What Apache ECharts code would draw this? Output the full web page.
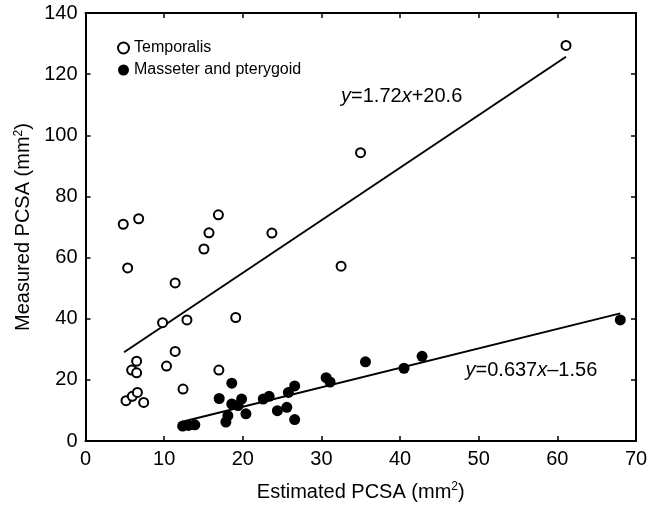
<!DOCTYPE html>
<html><head><meta charset="utf-8">
<script src="https://cdn.jsdelivr.net/npm/echarts@6/dist/echarts.min.js"></script>
<style>html,body{margin:0;padding:0;background:#fff}#c{width:658px;height:507px}</style>
</head><body><div id="c"></div>
<script>
// Temporalis (open circles)
const tempX = [5.15,5.95,6.6,7.4,5.87,6.5,6.5,5.36,9.8,10.3,11.4,11.4,12.9,12.4,15.06,16.96,19.1,4.8,6.76,15.7,16.9,23.7,34.97,61.1,32.5];
const tempY = [13.2,14.6,15.9,12.6,23.2,22.3,26.1,56.6,38.7,24.5,51.7,29.3,39.6,17.0,62.8,23.2,40.4,70.9,72.7,68.1,74.0,68.0,94.3,129.4,57.2];
// Masseter and pterygoid (filled circles)
const massX = [12.35,13.1,13.9,17.0,18.6,17.85,18.1,18.6,19.85,19.4,20.4,22.6,23.35,24.4,25.6,25.8,26.6,26.6,30.6,31.1,35.6,40.5,42.8,68.0];
const massY = [4.9,5.1,5.3,13.9,18.9,6.2,8.3,12.1,13.7,11.6,8.9,13.7,14.6,9.9,11.0,15.9,18.0,7.0,20.7,19.3,25.9,23.8,27.7,39.6];
// Regression lines
const tempFit = {slope:1.72, intercept:20.6, xRange:[4.9,61.1], label:[40.2,112.8]};
const massFit = {slope:0.637, intercept:-1.56, xRange:[12.3,68.0], label:[56.7,23.2]};
const xTicks = {min:0, max:70, interval:10};
const yTicks = {min:0, max:140, interval:20};

const zip = (a,b)=>a.map((v,i)=>[v,b[i]]);
const fitLine = f => f.xRange.map(x=>[x, f.slope*x+f.intercept]);
const font = '"Liberation Sans", Arial, sans-serif';

const chart = echarts.init(document.getElementById('c'));
const axisCommon = () => ({
  axisLine:{onZero:false,lineStyle:{color:'#000',width:2}},
  axisTick:{inside:true,length:5,lineStyle:{color:'#000',width:1.5}},
  splitLine:{show:false}
});
const supRich = {sup:{fontSize:12,verticalAlign:'top',padding:[0,0,10,0],color:'#000',fontFamily:font}};
chart.setOption({
  animation:false,
  backgroundColor:'#fff',
  textStyle:{fontFamily:font},
  grid:{left:85.5,right:22,top:13,bottom:61.3},
  legend:{
    orient:'vertical', left:112, top:35, itemGap:6,
    itemWidth:11, itemHeight:11,
    textStyle:{fontSize:16,color:'#000',fontFamily:font},
    data:['Temporalis','Masseter and pterygoid']
  },
  xAxis:[
    Object.assign({type:'value',position:'bottom',min:xTicks.min,max:xTicks.max,interval:xTicks.interval,
      name:'Estimated PCSA (mm{sup|2})',nameLocation:'middle',nameGap:40,
      nameTextStyle:{fontSize:20,color:'#000',fontFamily:font,rich:supRich},
      axisLabel:{fontSize:20,color:'#000',margin:8,fontFamily:font}},axisCommon()),
    Object.assign({type:'value',position:'top',min:xTicks.min,max:xTicks.max,interval:xTicks.interval,axisLabel:{show:false}},axisCommon())
  ],
  yAxis:[
    Object.assign({type:'value',position:'left',min:yTicks.min,max:yTicks.max,interval:yTicks.interval,
      name:'Measured PCSA (mm{sup|2})',nameLocation:'middle',nameGap:45,
      nameTextStyle:{fontSize:20,color:'#000',fontFamily:font,rich:supRich},
      axisLabel:{fontSize:20,color:'#000',margin:8,fontFamily:font}},axisCommon()),
    Object.assign({type:'value',position:'right',min:yTicks.min,max:yTicks.max,interval:yTicks.interval,axisLabel:{show:false}},axisCommon())
  ],
  series:[
    {name:'Temporalis',type:'scatter',data:zip(tempX,tempY),symbol:'circle',symbolSize:9,
      itemStyle:{color:'#fff',borderColor:'#000',borderWidth:2,opacity:1},z:3},
    {name:'Masseter and pterygoid',type:'scatter',data:zip(massX,massY),symbol:'circle',symbolSize:11,
      itemStyle:{color:'#000',borderColor:'#000',borderWidth:0,opacity:1},z:3},
    {name:'tfit',type:'line',data:fitLine(tempFit),showSymbol:false,symbol:'none',
      lineStyle:{color:'#000',width:2},z:2,
      markPoint:{symbol:'circle',symbolSize:0,data:[{coord:tempFit.label,value:'',
        label:{show:true,position:'inside',formatter:'{i|y}=1.72{i|x}+20.6',fontSize:20,color:'#000',fontFamily:font,
          rich:{i:{fontStyle:'italic',fontSize:20,color:'#000',fontFamily:font}}}}]}},
    {name:'mfit',type:'line',data:fitLine(massFit),showSymbol:false,symbol:'none',
      lineStyle:{color:'#000',width:2},z:2,
      markPoint:{symbol:'circle',symbolSize:0,data:[{coord:massFit.label,value:'',
        label:{show:true,position:'inside',formatter:'{i|y}=0.637{i|x}\u20131.56',fontSize:20,color:'#000',fontFamily:font,
          rich:{i:{fontStyle:'italic',fontSize:20,color:'#000',fontFamily:font}}}}]}}
  ]
});
</script></body></html>
